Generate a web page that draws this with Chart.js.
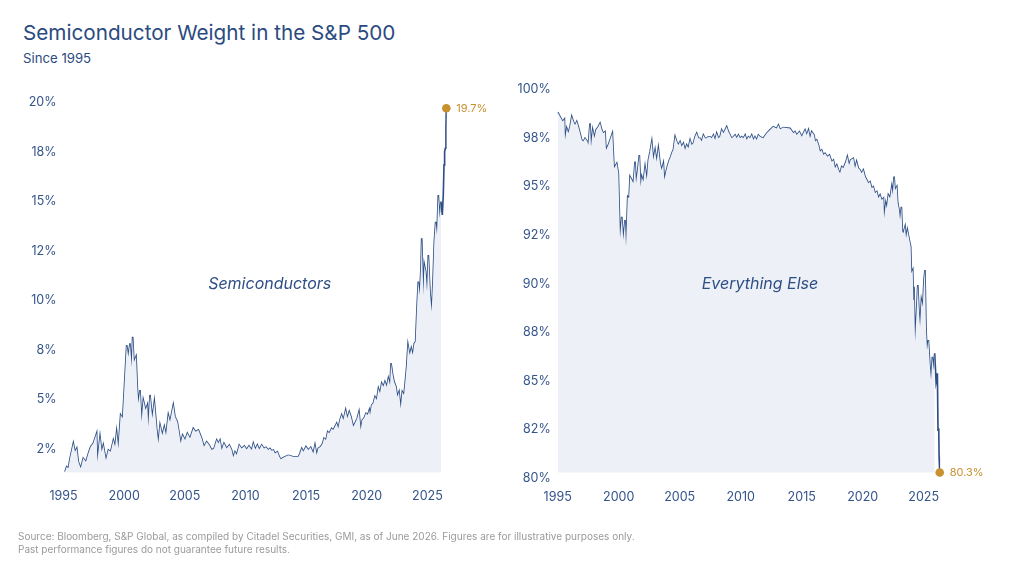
<!DOCTYPE html>
<html><head><meta charset="utf-8">
<script src="https://cdn.jsdelivr.net/npm/chart.js@4.4.1/dist/chart.umd.min.js"></script>
<style>
html,body{margin:0;padding:0;background:#fff;}
body{width:1024px;height:577px;position:relative;overflow:hidden;font-family:Inter,"DejaVu Sans",sans-serif;}
#title{position:absolute;left:23px;top:19.5px;font-size:20.7px;color:#2B4B80;white-space:nowrap;}
#sub{position:absolute;left:23px;top:49.5px;font-size:13.2px;color:#2B4B80;white-space:nowrap;}
#foot{position:absolute;left:18px;top:530px;font-size:10px;color:#9a9a9a;line-height:13px;white-space:nowrap;}
canvas{position:absolute;left:0;top:0;}
</style></head>
<body>
<div id="title">Semiconductor Weight in the S&amp;P 500</div>
<div id="sub">Since 1995</div>
<canvas id="c1" width="1024" height="577"></canvas>
<canvas id="c2" width="1024" height="577"></canvas>
<div id="foot">Source: Bloomberg, S&amp;P Global, as compiled by Citadel Securities, GMI, as of June 2026. Figures are for illustrative purposes only.<br>Past performance figures do not guarantee future results.</div>
<script>
// ---- data ----
const yearTicks = [1995, 2000, 2005, 2010, 2015, 2020, 2025];
const semiTicks = [2.5, 5, 7.5, 10, 12.5, 15, 17.5, 20];
const semiTickLabels = ['2%', '5%', '8%', '10%', '12%', '15%', '18%', '20%'];
const elseTicks = [80, 82.5, 85, 87.5, 90, 92.5, 95, 97.5, 100];
const elseTickLabels = ['80%', '82%', '85%', '88%', '90%', '92%', '95%', '98%', '100%'];

const semiYears = [1995.12,1995.26,1995.40,1995.54,1995.81,1995.95,1996.09,1996.22,1996.42,1996.63,1996.85,1997.05,1997.24,1997.46,1997.73,1997.79,1998.01,1998.15,1998.28,1998.50,1998.70,1998.89,1999.11,1999.25,1999.38,1999.52,1999.71,1999.88,2000.21,2000.34,2000.48,2000.62,2000.70,2000.81,2000.98,2001.09,2001.17,2001.31,2001.44,2001.58,2001.77,2001.91,2001.99,2002.13,2002.32,2002.49,2002.68,2002.82,2002.96,2003.15,2003.31,2003.45,2003.64,2003.78,2004.05,2004.19,2004.38,2004.52,2004.66,2004.82,2005.02,2005.21,2005.43,2005.70,2005.90,2006.12,2006.39,2006.58,2006.80,2007.00,2007.22,2007.41,2007.63,2007.76,2007.90,2008.04,2008.23,2008.45,2008.67,2008.86,2009.00,2009.14,2009.28,2009.49,2009.69,2009.91,2010.10,2010.29,2010.52,2010.65,2010.81,2010.98,2011.14,2011.34,2011.53,2011.69,2011.88,2012.02,2012.16,2012.30,2012.44,2012.63,2012.79,2012.91,2013.18,2013.53,2013.94,2014.36,2014.50,2014.64,2014.77,2014.99,2015.18,2015.38,2015.59,2015.73,2015.87,2016.00,2016.20,2016.37,2016.48,2016.64,2016.78,2016.91,2017.11,2017.24,2017.38,2017.52,2017.65,2017.79,2017.93,2018.07,2018.26,2018.40,2018.56,2018.70,2018.89,2019.09,2019.22,2019.36,2019.50,2019.63,2019.77,2019.94,2020.08,2020.21,2020.27,2020.41,2020.54,2020.68,2020.82,2020.96,2021.09,2021.23,2021.37,2021.50,2021.64,2021.78,2021.92,2022.00,2022.14,2022.25,2022.41,2022.52,2022.66,2022.80,2022.93,2023.07,2023.18,2023.29,2023.40,2023.54,2023.67,2023.79,2023.92,2024.03,2024.14,2024.25,2024.36,2024.47,2024.53,2024.67,2024.75,2024.86,2024.97,2025.08,2025.22,2025.35,2025.46,2025.57,2025.68,2025.79,2025.90,2026.01,2026.12,2026.23,2026.31,2026.37,2026.42,2026.48,2026.53,2026.56];
const semiValues = [1.35,1.61,1.53,2.03,2.79,2.36,2.53,1.86,1.53,2.03,1.86,2.28,2.62,2.79,3.29,1.86,3.12,2.36,2.70,1.94,2.45,2.36,2.95,2.62,3.37,2.53,4.22,4.05,7.75,7.16,7.83,6.65,8.17,6.90,7.16,5.56,4.81,5.48,3.88,4.97,4.47,4.72,3.63,5.23,4.05,4.89,3.54,2.79,3.71,3.20,3.63,3.20,4.22,3.88,4.72,4.13,3.88,3.37,2.79,3.20,2.95,3.29,3.04,3.54,3.37,3.46,3.04,2.62,2.87,2.70,2.45,2.53,2.95,2.78,2.95,2.45,2.79,2.53,2.70,2.45,2.08,2.36,2.20,2.70,2.53,2.65,2.48,2.65,2.45,2.79,2.48,2.70,2.48,2.70,2.53,2.59,2.45,2.53,2.41,2.45,2.28,2.36,2.11,1.98,2.08,2.18,2.11,2.11,2.28,2.53,2.36,2.62,2.45,2.59,2.28,2.70,2.20,2.53,2.62,2.79,3.04,2.95,3.37,3.29,3.54,3.46,3.63,3.80,3.54,3.96,4.22,3.96,4.47,4.05,4.38,4.13,3.63,3.88,4.05,4.38,3.46,3.96,4.05,4.30,4.22,4.47,4.22,4.72,4.81,5.14,4.97,5.56,5.31,5.82,5.64,5.90,5.64,6.07,5.73,6.83,6.24,5.90,5.64,5.14,5.39,4.55,5.39,5.23,5.90,6.65,7.75,7.24,7.58,7.24,7.83,7.91,9.60,10.95,10.27,11.62,13.14,10.27,11.79,11.45,10.44,12.29,10.36,9.43,10.95,12.96,13.97,13.31,15.32,14.15,14.99,14.31,15.32,16.84,17.51,17.68,18.69,19.70];

const elseYears = [1995.00,1995.19,1995.41,1995.55,1995.60,1995.74,1995.87,1996.01,1996.15,1996.28,1996.42,1996.56,1996.69,1996.83,1996.97,1997.10,1997.24,1997.43,1997.51,1997.65,1997.73,1997.87,1998.01,1998.14,1998.33,1998.47,1998.61,1998.74,1998.88,1998.96,1999.15,1999.29,1999.48,1999.62,1999.84,1999.97,2000.11,2000.25,2000.38,2000.52,2000.60,2000.74,2000.85,2000.93,2001.07,2001.20,2001.34,2001.42,2001.56,2001.69,2001.80,2001.89,2002.02,2002.16,2002.30,2002.43,2002.57,2002.71,2002.84,2002.98,2003.11,2003.25,2003.39,2003.52,2003.66,2003.74,2003.88,2004.02,2004.15,2004.26,2004.40,2004.48,2004.62,2004.75,2004.89,2005.03,2005.16,2005.30,2005.44,2005.57,2005.71,2005.85,2005.98,2006.12,2006.26,2006.39,2006.53,2006.67,2006.80,2006.94,2007.08,2007.21,2007.35,2007.49,2007.62,2007.76,2007.90,2008.03,2008.17,2008.31,2008.44,2008.58,2008.72,2008.85,2008.99,2009.13,2009.26,2009.40,2009.54,2009.67,2009.81,2009.95,2010.08,2010.22,2010.36,2010.49,2010.63,2010.77,2010.90,2011.04,2011.17,2011.31,2011.45,2011.58,2011.85,2012.13,2012.40,2012.67,2012.95,2013.09,2013.22,2013.50,2014.04,2014.32,2014.45,2014.59,2014.81,2015.00,2015.27,2015.41,2015.55,2015.68,2015.82,2016.01,2016.10,2016.23,2016.37,2016.50,2016.64,2016.78,2016.91,2017.11,2017.27,2017.46,2017.60,2017.73,2017.87,2018.01,2018.14,2018.28,2018.41,2018.63,2018.74,2018.88,2019.01,2019.23,2019.37,2019.50,2019.64,2019.78,2019.91,2020.05,2020.19,2020.33,2020.46,2020.60,2020.74,2020.87,2021.01,2021.15,2021.29,2021.42,2021.56,2021.70,2021.75,2021.89,2021.97,2022.10,2022.24,2022.38,2022.46,2022.57,2022.65,2022.79,2022.87,2022.98,2023.06,2023.17,2023.25,2023.33,2023.47,2023.55,2023.66,2023.82,2023.93,2023.99,2024.10,2024.15,2024.20,2024.29,2024.42,2024.51,2024.62,2024.70,2024.81,2024.92,2025.02,2025.10,2025.19,2025.27,2025.38,2025.51,2025.60,2025.71,2025.79,2025.90,2026.01,2026.12,2026.17,2026.23,2026.26,2026.31];
const elseValues = [98.82,98.59,98.34,98.46,97.39,98.00,97.74,98.08,98.59,98.34,98.16,98.34,98.08,97.74,97.39,97.31,97.48,97.31,97.14,98.25,97.05,97.91,97.48,97.91,98.08,98.25,97.91,97.74,97.82,96.88,97.14,97.39,97.74,95.94,96.19,95.68,92.34,93.45,92.25,93.28,91.91,94.48,94.40,95.51,95.34,95.17,96.28,95.17,95.85,96.62,94.99,95.51,95.25,96.02,95.34,96.36,96.79,97.31,96.36,96.88,96.28,96.97,96.19,95.85,96.19,95.34,95.76,96.11,96.36,96.53,96.79,96.88,97.56,97.31,97.14,97.31,97.05,97.22,96.88,97.14,96.97,97.39,97.14,97.22,97.56,97.74,97.48,97.48,97.31,97.65,97.48,97.48,97.56,97.56,97.48,97.65,97.39,97.74,97.48,97.56,97.91,97.74,97.91,98.08,97.82,97.65,97.48,97.56,97.65,97.48,97.65,97.48,97.56,97.48,97.65,97.39,97.56,97.48,97.65,97.39,97.56,97.39,97.65,97.56,97.48,97.74,97.91,98.08,97.99,98.16,97.94,98.03,97.99,97.74,97.82,97.65,97.82,97.56,97.91,97.65,97.91,97.48,97.82,97.65,97.31,97.39,97.14,96.79,96.88,96.62,96.71,96.53,96.62,96.28,96.36,95.94,96.11,95.85,95.68,96.02,95.94,96.28,96.53,96.11,96.36,96.45,95.94,96.28,95.94,95.85,95.68,95.85,95.51,95.34,95.17,95.25,94.91,94.99,94.65,94.74,94.40,94.57,94.31,94.40,93.37,94.14,93.88,94.57,94.40,94.99,94.57,95.51,94.82,94.99,94.14,93.79,93.28,93.96,92.68,92.60,92.94,92.34,92.77,92.25,91.91,90.54,90.71,89.17,89.85,87.02,88.65,89.94,88.48,87.80,89.17,88.82,90.20,90.71,87.63,86.60,87.11,85.74,85.05,86.25,85.57,86.43,84.97,85.40,82.48,82.57,81.11,80.30];

// ---- style ----
const FONT = 'Inter, "DejaVu Sans", sans-serif';
const BLUE = '#2E4F86';
const TICK = '#34548A';
const FILL = '#EDF0F6';
const GOLD = '#C8912F';

function pts(xs, ys) { return xs.map((x, i) => ({ x: x, y: ys[i] })); }

const endMarker = {
  id: 'endMarker',
  afterDatasetsDraw(chart, args, o) {
    const ctx = chart.ctx, xs = chart.scales.x, ys = chart.scales.y;
    const data = chart.data.datasets[1].data, last = data[data.length - 1];
    const px = xs.getPixelForValue(last.x), py = ys.getPixelForValue(last.y);
    ctx.save();
    ctx.fillStyle = GOLD;
    ctx.beginPath(); ctx.arc(px, py, 4.3, 0, Math.PI * 2); ctx.fill();
    ctx.font = '11px ' + FONT; ctx.textBaseline = 'middle'; ctx.textAlign = 'left';
    ctx.fillText(last.y.toFixed(1) + '%', px + 10, py + 0.5);
    ctx.fillStyle = BLUE;
    ctx.font = 'italic 16px ' + FONT; ctx.textAlign = 'center';
    ctx.fillText(o.label, xs.getPixelForValue(o.lx), ys.getPixelForValue(o.ly));
    ctx.restore();
  }
};

function makeChart(id, xs, ys, cfg) {
  const all = pts(xs, ys);
  const fillPts = all.filter(p => p.x <= cfg.fillEnd);
  return new Chart(document.getElementById(id), {
    type: 'line',
    data: { datasets: [
      { data: fillPts, borderWidth: 0, backgroundColor: FILL, fill: cfg.fill, pointRadius: 0, tension: 0 },
      { data: all, borderColor: BLUE, borderWidth: 1.65, fill: false, pointRadius: 0, tension: 0 }
    ]},
    options: {
      responsive: false, animation: false, events: [],
      layout: { padding: cfg.pad },
      plugins: { legend: { display: false }, tooltip: { enabled: false }, endMarker: cfg.mark },
      scales: {
        x: { type: 'linear', min: 1995, max: cfg.xmax,
          grid: { display: false, drawTicks: false }, border: { display: false },
          afterBuildTicks: s => { s.ticks = yearTicks.map(v => ({ value: v })); },
          afterFit: s => { s.height = 30; },
          ticks: { color: TICK, font: { family: FONT, size: 12.5 }, padding: cfg.xpad, maxRotation: 0, autoSkip: false, callback: v => String(v) } },
        y: { type: 'linear', min: cfg.ymin, max: cfg.ymax,
          grid: { display: false, drawTicks: false }, border: { display: false },
          afterBuildTicks: s => { s.ticks = cfg.ticks.map(v => ({ value: v })); },
          afterFit: s => { s.width = cfg.yw; },
          ticks: { color: TICK, font: { family: FONT, size: 12.5 }, padding: 7, autoSkip: false,
            callback: v => cfg.labels[cfg.ticks.indexOf(v)] } }
      }
    },
    plugins: [endMarker]
  });
}

makeChart('c1', semiYears, semiValues, {
  xmax: 2026.6, ymin: 1.3, ymax: 20, ticks: semiTicks, labels: semiTickLabels,
  fill: 'start', fillEnd: 2026.2, yw: 63.5, xpad: 16,
  pad: { left: 0, top: 102.3, right: 577.2, bottom: 74.2 },
  mark: { label: 'Semiconductors', lx: 2012.0, ly: 10.83 }
});
makeChart('c2', elseYears, elseValues, {
  xmax: 2026.35, ymin: 80, ymax: 100, ticks: elseTicks, labels: elseTickLabels,
  fill: { value: 80.3 }, fillEnd: 2025.95, yw: 57.7, xpad: 11,
  pad: { left: 500, top: 89.3, right: 83.8, bottom: 68.7 },
  mark: { label: 'Everything Else', lx: 2011.58, ly: 89.99 }
});
</script>
</body></html>
